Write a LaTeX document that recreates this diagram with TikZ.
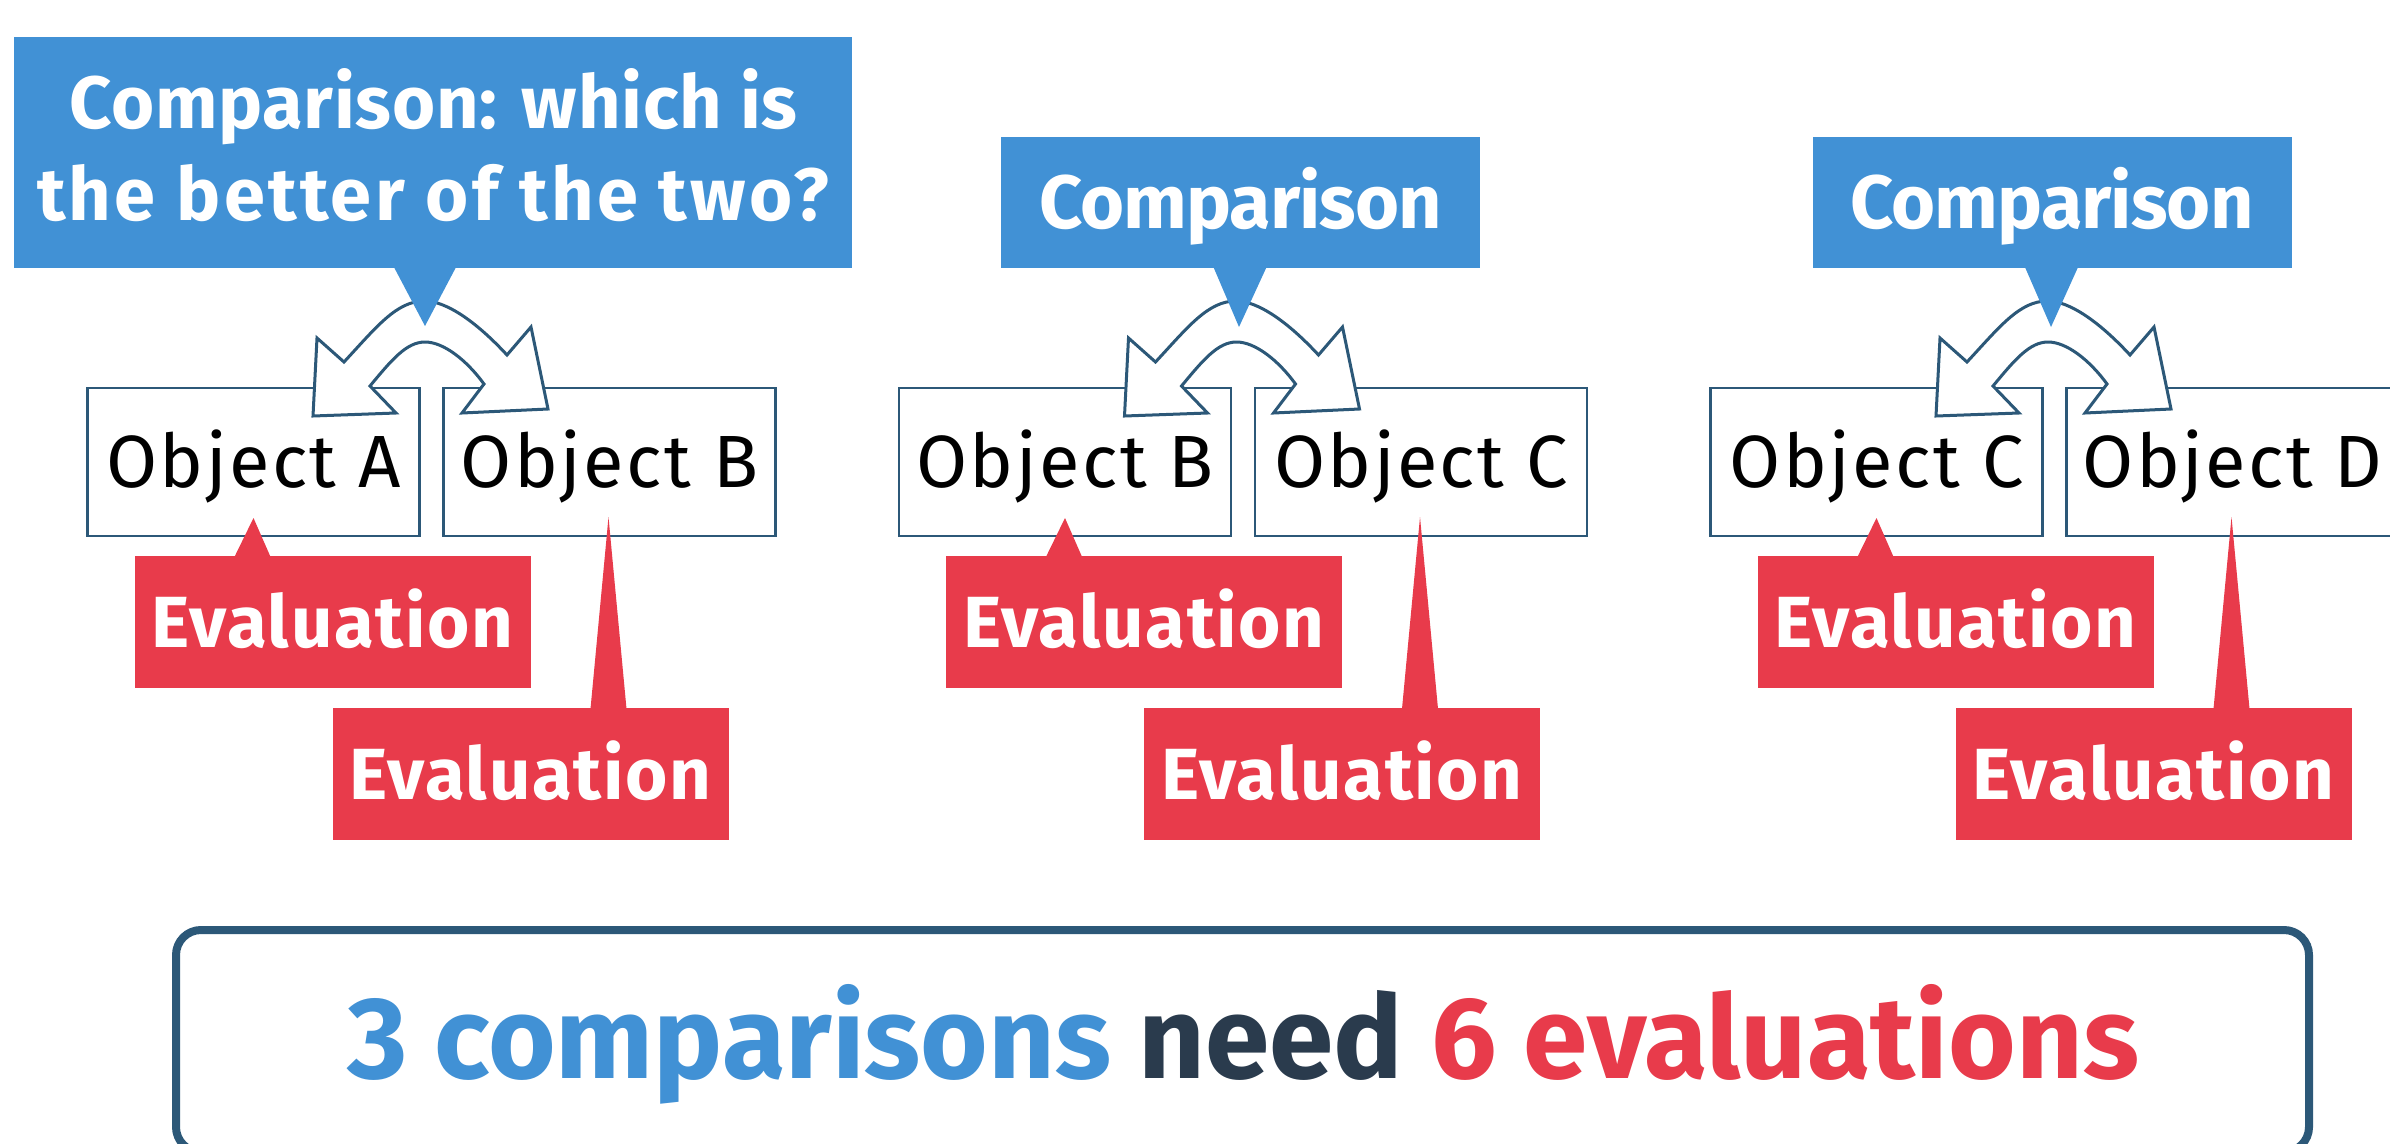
\documentclass[tikz,border=0pt]{standalone}
\usepackage{fontspec}
\setmainfont{Fira Sans}
\definecolor{cmpblue}{HTML}{4191D5}
\definecolor{evalred}{HTML}{E83B4B}
\definecolor{navy}{HTML}{2A3B4D}
\definecolor{edge}{HTML}{2C5878}
\tikzset{
  objbox/.style={draw=edge, line width=2.5, fill=white, minimum width=332, minimum height=148,
    inner sep=0, text height=51, text depth=0, font=\fontsize{74}{80}\selectfont\addfontfeatures{LetterSpace=3.3}},
  cmpbox/.style={fill=cmpblue, text=white, inner sep=0, minimum width=479, minimum height=131,
    text height=52, text depth=0, font=\fontsize{75.5}{80}\selectfont\bfseries\addfontfeatures{LetterSpace=-1.2}},
  cmpline/.style={text=white, inner sep=0, anchor=base, font=\fontsize{74}{80}\selectfont\bfseries},
  evalbox/.style={fill=evalred, text=white, inner sep=0, minimum width=396, minimum height=132,
    text height=50, text depth=0, font=\fontsize{72.5}{80}\selectfont\bfseries\addfontfeatures{LetterSpace=2.3}},
  arrowband/.style={draw=edge, line width=3, fill=white, line join=miter},
  cmptip/.style={fill=cmpblue},
  evaltip/.style={fill=evalred},
  sumbox/.style={draw=edge, line width=8, rounded corners=25, fill=white, minimum width=2133, minimum height=222},
}
\begin{document}
\begin{tikzpicture}[x=1pt, y=-1pt]
\useasboundingbox[fill=white] (0,0) rectangle (2390,1143);

\foreach \g/\gx/\la/\lb in {1/431.5/A/B, 2/1243/B/C, 3/2054.5/C/D}{
  \begin{scope}[xshift=\gx]
    % object boxes
    \node[objbox] (oL\g) at (-178,462) {Object \la};
    \node[objbox] (oR\g) at (178,462) {Object \lb};
    % curved double arrow
    \draw[arrowband] (-114.5,338) -- (-118.5,416) -- (-35.5,413) -- (-61.5,386)
      .. controls (-40,360) and (-25,342) .. (-6.5,342)
      .. controls (12,342) and (35,360) .. (52.5,384)
      -- (30.5,413) -- (116.5,409) -- (99.5,327) -- (75.5,355)
      .. controls (45,322) and (15,301) .. (-7,301)
      .. controls (-35,301) and (-55,327) .. (-87.5,362) -- cycle;
    % evaluation callouts
    \node[evalbox] (eL\g) at (-99,622) {Evaluation};
    \coordinate (eLt\g) at (-178,518);
    \fill[evaltip] ([xshift=-98,yshift=-1]eL\g.north) -- (eLt\g) -- ([xshift=-62,yshift=-1]eL\g.north) -- cycle;
    \node[evalbox] (eR\g) at (99,774) {Evaluation};
    \coordinate (eRt\g) at (177,517);
    \fill[evaltip] ([xshift=60,yshift=-1]eR\g.north) -- (eRt\g) -- ([xshift=96,yshift=-1]eR\g.north) -- cycle;
  \end{scope}
}

% comparison callouts
\node[cmpbox, minimum width=838, minimum height=231] (c1) at (433,152.5) {};
\node[cmpline] (c1a) at (433.5,128.6) {\addfontfeatures{LetterSpace=1}Comparison: which is};
\node[cmpline] (c1b) at (433,220) {\addfontfeatures{LetterSpace=4.5}the better of the two?};
\coordinate (c1t) at (425,326);
\fill[cmptip] ([xshift=-39,yshift=1]c1.south) -- (c1t) -- ([xshift=23,yshift=1]c1.south) -- cycle;

\node[cmpbox] (c2) at (1240.5,202.5) {Comparison};
\coordinate (c2t) at (1239,327);
\fill[cmptip] ([xshift=-27,yshift=1]c2.south) -- (c2t) -- ([xshift=26,yshift=1]c2.south) -- cycle;

\node[cmpbox] (c3) at (2052,202.5) {Comparison};
\coordinate (c3t) at (2051,327);
\fill[cmptip] ([xshift=-27,yshift=1]c3.south) -- (c3t) -- ([xshift=26,yshift=1]c3.south) -- cycle;

% summary
\node[sumbox] (sum) at (1242.5,1041) {};
\node[anchor=base, inner sep=0, font=\fontsize{116}{120}\selectfont\bfseries] (sumtext) at (1243,1078)
  {\textcolor{cmpblue}{3 comparisons} \textcolor{navy}{need} \textcolor{evalred}{6 evaluations}};
\end{tikzpicture}
\end{document}
